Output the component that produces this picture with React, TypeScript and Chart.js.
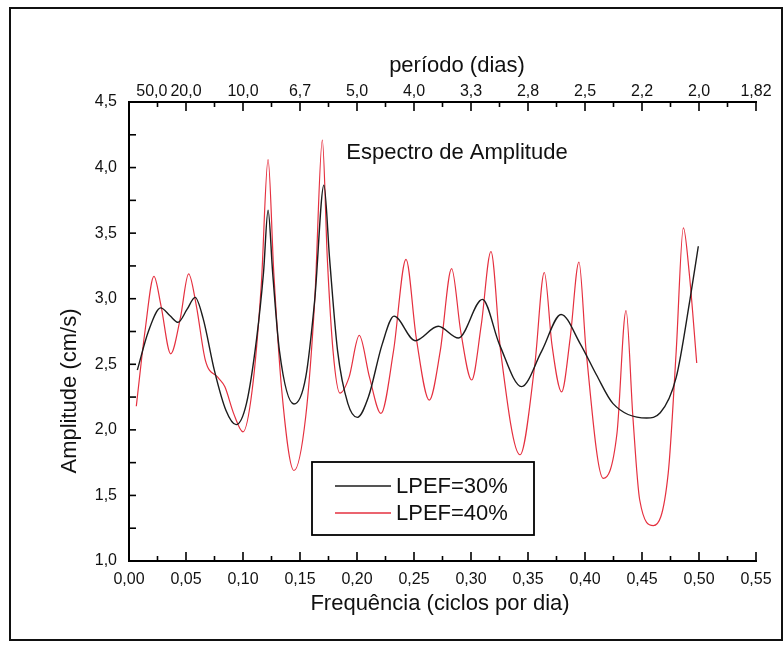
import React, { useEffect, useRef } from "react";
import { Chart, registerables } from "chart.js";

Chart.register(...registerables);

// ---- Data ----
const freq30 = [0.0073, 0.017, 0.0278, 0.036, 0.043, 0.051, 0.058, 0.065, 0.075, 0.085, 0.094, 0.103, 0.112, 0.118, 0.122, 0.126, 0.132, 0.1447, 0.155, 0.163, 0.171, 0.176, 0.183, 0.192, 0.2003, 0.21, 0.222, 0.2325, 0.251, 0.2713, 0.289, 0.31, 0.325, 0.3444, 0.362, 0.379, 0.3956, 0.41, 0.4246, 0.454, 0.466, 0.48, 0.492, 0.4994];
const amp30 = [2.456, 2.75, 2.93, 2.87, 2.82, 2.92, 3.01, 2.85, 2.45, 2.15, 2.04, 2.2, 2.7, 3.2, 3.675, 3.2, 2.6, 2.197, 2.4, 3.0, 3.866, 3.3, 2.6, 2.2, 2.095, 2.25, 2.65, 2.867, 2.68, 2.79, 2.7, 2.995, 2.65, 2.33, 2.6, 2.88, 2.66, 2.42, 2.2, 2.09, 2.13, 2.4, 2.99, 3.4];

const freq40 = [0.0064, 0.014, 0.0219, 0.028, 0.0366, 0.045, 0.0523, 0.059, 0.067, 0.078, 0.084, 0.092, 0.1, 0.108, 0.116, 0.122, 0.127, 0.134, 0.1447, 0.155, 0.163, 0.1696, 0.174, 0.179, 0.185, 0.193, 0.202, 0.211, 0.221, 0.232, 0.243, 0.252, 0.2634, 0.273, 0.283, 0.291, 0.3006, 0.309, 0.3175, 0.326, 0.343, 0.356, 0.3643, 0.371, 0.3795, 0.387, 0.3947, 0.401, 0.416, 0.428, 0.436, 0.442, 0.448, 0.46, 0.473, 0.48, 0.4863, 0.4915, 0.498];
const amp40 = [2.18, 2.75, 3.17, 2.95, 2.58, 2.85, 3.19, 2.95, 2.53, 2.4, 2.33, 2.12, 1.985, 2.3, 3.1, 4.06, 3.2, 2.3, 1.69, 2.1, 3.0, 4.21, 3.3, 2.6, 2.28, 2.4, 2.72, 2.4, 2.125, 2.6, 3.3, 2.7, 2.227, 2.6, 3.23, 2.75, 2.38, 2.8, 3.36, 2.6, 1.81, 2.5, 3.2, 2.65, 2.29, 2.7, 3.28, 2.6, 1.63, 1.97, 2.91, 2.1, 1.465, 1.27, 1.67, 2.6, 3.54, 3.19, 2.51];

const freqTicks = [0, 0.05, 0.1, 0.15, 0.2, 0.25, 0.3, 0.35, 0.4, 0.45, 0.5, 0.55];
const ampTicks = [1, 1.5, 2, 2.5, 3, 3.5, 4, 4.5];
const periodTickFreqs = [0.02, 0.05, 0.1, 0.15, 0.2, 0.25, 0.3, 0.35, 0.4, 0.45, 0.5, 0.55];
const periodLabels = ["50,0", "20,0", "10,0", "6,7", "5,0", "4,0", "3,3", "2,8", "2,5", "2,2", "2,0", "1,82"];

const seriesNames = ["LPEF=30%", "LPEF=40%"];
const seriesColors = ["#1c1c1c", "#e5303f"];

const FONT = "'Liberation Sans', Arial, sans-serif";

const decor = {
  id: "decor",
  afterDraw(chart: any) {
    const ctx = chart.ctx;
    const x = chart.scales.x;
    const y = chart.scales.y;
    const a = chart.chartArea;
    ctx.save();
    ctx.strokeStyle = "#000";
    ctx.lineWidth = 1.6;
    // inward tick marks
    for (let i = 0; i <= 22; i++) {
      const v = i * 0.025;
      const px = x.getPixelForValue(v);
      const major = i % 2 === 0;
      const len = major ? 9 : 5;
      ctx.beginPath();
      ctx.moveTo(px, a.bottom);
      ctx.lineTo(px, a.bottom - len);
      ctx.moveTo(px, a.top);
      ctx.lineTo(px, a.top + len);
      ctx.stroke();
    }
    for (let i = 0; i <= 14; i++) {
      const v = 1 + i * 0.25;
      const py = y.getPixelForValue(v);
      const len = 7;
      ctx.beginPath();
      ctx.moveTo(a.left, py);
      ctx.lineTo(a.left + len, py);
      ctx.stroke();
    }
    // outer frame
    ctx.lineWidth = 2;
    ctx.strokeStyle = "#111";
    ctx.strokeRect(10, 8, 772, 632);

    // texts
    ctx.fillStyle = "#111";
    ctx.font = `22px ${FONT}`;
    ctx.textAlign = "center";
    ctx.textBaseline = "middle";
    ctx.fillText("período (dias)", 457, 66);
    ctx.fillText("Frequência (ciclos por dia)", 440, 604);
    ctx.fillText("Espectro de Amplitude", 457, 153);
    ctx.save();
    ctx.translate(70, 391);
    ctx.rotate(-Math.PI / 2);
    ctx.fillText("Amplitude (cm/s)", 0, 0);
    ctx.restore();

    // legend box
    ctx.fillStyle = "#fff";
    ctx.fillRect(312, 462, 222, 73);
    ctx.lineWidth = 1.8;
    ctx.strokeStyle = "#000";
    ctx.strokeRect(312, 462, 222, 73);
    const rows = [486, 513];
    for (let i = 0; i < 2; i++) {
      ctx.strokeStyle = seriesColors[i];
      ctx.lineWidth = 1.3;
      ctx.beginPath();
      ctx.moveTo(335, rows[i]);
      ctx.lineTo(391, rows[i]);
      ctx.stroke();
      ctx.fillStyle = "#111";
      ctx.textAlign = "left";
      ctx.font = `22px ${FONT}`;
      ctx.fillText(seriesNames[i], 396, rows[i] + 1);
    }
    ctx.restore();
  },
};

export default function App() {
  const ref = useRef<HTMLCanvasElement | null>(null);
  useEffect(() => {
    if (!ref.current) return;
    const border = { display: true, color: "#000", width: 2 };
    const tickFont = { family: FONT, size: 16 };
    const grid = { display: false, drawTicks: false };
    const chart = new Chart(ref.current, {
      type: "line",
      data: {
        datasets: [
          {
            label: seriesNames[0],
            data: freq30.map((f, i) => ({ x: f, y: amp30[i] })),
            borderColor: seriesColors[0],
            borderWidth: 1.4,
            pointRadius: 0,
            cubicInterpolationMode: "monotone",
            xAxisID: "x",
            yAxisID: "y",
          },
          {
            label: seriesNames[1],
            data: freq40.map((f, i) => ({ x: f, y: amp40[i] })),
            borderColor: seriesColors[1],
            borderWidth: 1.2,
            pointRadius: 0,
            cubicInterpolationMode: "monotone",
            xAxisID: "x",
            yAxisID: "y",
          },
        ],
      },
      options: {
        responsive: false,
        animation: false,
        layout: { padding: { left: 0, right: 28, top: 0, bottom: 0 } },
        plugins: { legend: { display: false }, tooltip: { enabled: false } },
        scales: {
          x: {
            type: "linear",
            position: "bottom",
            min: 0,
            max: 0.55,
            afterBuildTicks: (s: any) => {
              s.ticks = freqTicks.map((v) => ({ value: v }));
            },
            afterFit: (s: any) => {
              s.height = 86;
            },
            ticks: {
              autoSkip: false,
              maxRotation: 0,
              minRotation: 0,
              padding: 9,
              color: "#111",
              font: tickFont,
              callback: (v: any) => Number(v).toFixed(2).replace(".", ","),
            },
            grid,
            border,
          },
          x2: {
            type: "linear",
            position: "top",
            min: 0,
            max: 0.55,
            afterBuildTicks: (s: any) => {
              s.ticks = periodTickFreqs.map((v) => ({ value: v }));
            },
            afterFit: (s: any) => {
              s.height = 102;
            },
            ticks: {
              autoSkip: false,
              maxRotation: 0,
              minRotation: 0,
              padding: 1,
              color: "#111",
              font: tickFont,
              callback: (_v: any, i: number) => periodLabels[i],
            },
            grid,
            border,
          },
          y: {
            type: "linear",
            position: "left",
            min: 1,
            max: 4.5,
            afterBuildTicks: (s: any) => {
              s.ticks = ampTicks.map((v) => ({ value: v }));
            },
            afterFit: (s: any) => {
              s.width = 129;
            },
            ticks: {
              padding: 12,
              color: "#111",
              font: tickFont,
              callback: (v: any) => Number(v).toFixed(1).replace(".", ","),
            },
            grid,
            border,
          },
        },
      } as any,
      plugins: [decor],
    });
    return () => chart.destroy();
  }, []);
  return (
    <div style={{ position: "fixed", left: 0, top: 0, width: 784, height: 647, background: "#fff" }}>
      <canvas ref={ref} width={784} height={647} style={{ display: "block" }} />
    </div>
  );
}
